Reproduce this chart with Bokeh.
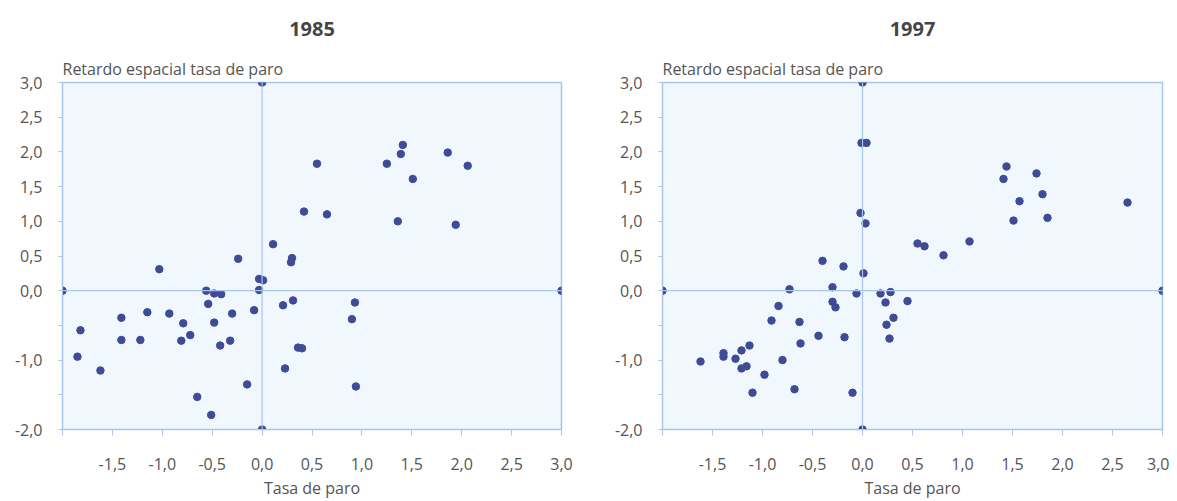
from bokeh.plotting import figure
from bokeh.layouts import row
from bokeh.models import Span, Title, FixedTicker
from bokeh.embed import file_html
from bokeh.resources import INLINE

# ---- data ----
years = ["1985", "1997"]

x85 = [-2.0, -1.03, -0.24, 0.30, 0.29, -0.03, 0.01, -0.03, -0.56, -0.48, -0.41, -0.54,
       0.31, 0.21, -0.08, -0.30, -1.15, -0.93, -1.41, -0.79, -0.48, -1.82, -0.72, -1.41,
       -1.22, -0.81, -0.32, -0.42, 0.36, 0.40, -1.85, -1.62, 0.23, -0.15, -0.65, -0.51,
       0.0, 3.0, 0.93, 0.90, 0.94, 0.55, 1.25, 1.41, 1.39, 1.86, 2.06, 1.51, 0.42, 0.65,
       1.36, 1.94, 0.0, 0.11]
y85 = [0.0, 0.31, 0.46, 0.47, 0.41, 0.17, 0.15, 0.01, 0.0, -0.04, -0.05, -0.19,
       -0.14, -0.21, -0.28, -0.33, -0.31, -0.33, -0.39, -0.47, -0.46, -0.57, -0.64, -0.71,
       -0.71, -0.72, -0.72, -0.79, -0.82, -0.83, -0.95, -1.15, -1.12, -1.35, -1.53, -1.79,
       -2.0, 0.0, -0.17, -0.41, -1.38, 1.83, 1.83, 2.10, 1.97, 1.99, 1.80, 1.61, 1.14, 1.10,
       1.00, 0.95, 3.0, 0.67]

x97 = [-2.0, -0.40, -0.19, 0.01, -0.73, -0.30, -0.06, 0.18, 0.28, 0.23, 0.45, -0.30,
       -0.27, -0.84, -0.91, -0.63, 0.31, 0.24, 0.27, -0.44, -0.18, -0.62, -1.13, -1.21,
       -1.39, -1.39, -1.27, -0.80, -1.62, -1.16, -1.21, -0.98, -0.68, -1.10, -0.10, 0.0,
       0.81, 3.0, 1.44, 1.41, 1.74, 1.80, 1.57, 1.51, 1.85, 2.65, 0.55, 0.62, 1.07, 0.0,
       -0.01, 0.04, -0.02, 0.03]
y97 = [0.0, 0.43, 0.35, 0.25, 0.02, 0.05, -0.04, -0.04, -0.02, -0.17, -0.15, -0.16,
       -0.24, -0.22, -0.43, -0.45, -0.39, -0.49, -0.69, -0.65, -0.67, -0.76, -0.79, -0.86,
       -0.90, -0.95, -0.98, -1.00, -1.02, -1.09, -1.12, -1.21, -1.42, -1.47, -1.47, -2.0,
       0.51, 0.0, 1.79, 1.61, 1.69, 1.39, 1.29, 1.01, 1.05, 1.27, 0.68, 0.64, 0.71, 3.0,
       2.13, 2.13, 1.12, 0.97]

x_ticks = [-2.0, -1.5, -1.0, -0.5, 0.0, 0.5, 1.0, 1.5, 2.0, 2.5, 3.0]
x_tick_labels = ["", "-1,5", "-1,0", "-0,5", "0,0", "0,5", "1,0", "1,5", "2,0", "2,5", "3,0"]
y_ticks = [-2.0, -1.5, -1.0, -0.5, 0.0, 0.5, 1.0, 1.5, 2.0, 2.5, 3.0]
y_tick_labels = ["-2,0", "", "-1,0", "", "0,0", "0,5", "1,0", "1,5", "2,0", "2,5", "3,0"]

x_label = "Tasa de paro"
y_label = "Retardo espacial tasa de paro"

# ---- style ----
FONT = "Open Sans"
BG = "#f1f8fd"
LINE = "#a9c5ea"
DOT = "#3f4b97"
TXT = "#555555"


def make_panel(xs, ys, year, width, border_left, border_right):
    p = figure(width=width, height=501, x_range=(-2.0, 3.0), y_range=(-2.0, 3.0),
               output_backend="svg", toolbar_location=None, title=None,
               min_border_left=border_left, min_border_right=border_right,
               min_border_top=82, min_border_bottom=40)
    p.background_fill_color = BG
    p.border_fill_color = "white"
    p.outline_line_color = LINE
    p.outline_line_width = 1.5
    p.grid.visible = False

    p.add_layout(Title(text=y_label, align="left", text_font=FONT, text_font_size="16px",
                       text_font_style="normal", text_color=TXT, standoff=6), "above")
    p.add_layout(Title(text=year, align="center", text_font=FONT, text_font_size="20px",
                       text_font_style="bold", text_color="#454545", standoff=34), "above")

    for ax in (p.xaxis[0], p.yaxis[0]):
        ax.axis_line_color = LINE
        ax.major_tick_line_color = LINE
        ax.minor_tick_line_color = None
        ax.major_tick_in = 0
        ax.major_label_text_font = FONT
        ax.major_label_text_font_size = "16px"
        ax.major_label_text_color = TXT

    p.xaxis.ticker = FixedTicker(ticks=x_ticks)
    p.xaxis.major_label_overrides = {t: s for t, s in zip(x_ticks, x_tick_labels)}
    p.xaxis.major_tick_out = 6
    p.xaxis.major_label_standoff = 22
    p.xaxis.axis_label = x_label
    p.xaxis.axis_label_text_font = FONT
    p.xaxis.axis_label_text_font_size = "16px"
    p.xaxis.axis_label_text_font_style = "normal"
    p.xaxis.axis_label_text_color = TXT
    p.xaxis.axis_label_standoff = 4

    p.yaxis.ticker = FixedTicker(ticks=y_ticks)
    p.yaxis.major_label_overrides = {t: s for t, s in zip(y_ticks, y_tick_labels)}
    p.yaxis.major_tick_out = 4
    p.yaxis.major_label_standoff = 16

    p.add_layout(Span(location=0, dimension="height", line_color=LINE, line_width=1.2))
    p.add_layout(Span(location=0, dimension="width", line_color=LINE, line_width=1.2))

    p.scatter(xs, ys, size=7.5, color=DOT, line_color=DOT)
    return p


p1 = make_panel(x85, y85, years[0], 590, 62, 29)
p2 = make_panel(x97, y97, years[1], 579, 72, 7)

layout = row(p1, p2)
open("out.html", "w").write(file_html(layout, INLINE))
